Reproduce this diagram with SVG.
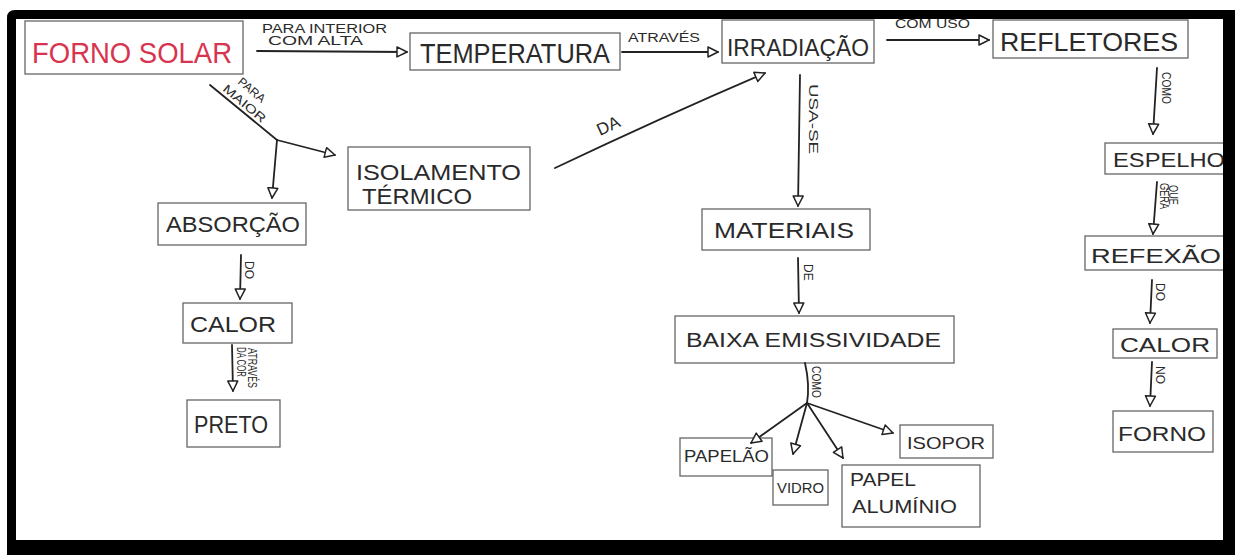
<svg xmlns="http://www.w3.org/2000/svg" width="1239" height="557" viewBox="0 0 1239 557">
  <style>
    .box { fill: #ffffff; stroke: #666; stroke-width: 1.3; }
    .t { font-family: "Liberation Sans", Arial, sans-serif; fill: #2a2a2a; }
    .lbl { font-family: "Liberation Sans", Arial, sans-serif; fill: #2a2a2a; font-size: 12px; }
    .edge { fill: none; stroke: #222; stroke-width: 1.8; stroke-linecap: round; }
    .edge-end { fill: none; stroke: #222; stroke-width: 1.8; stroke-linecap: round; marker-end: url(#tri); }
  </style>
  <defs>
    <marker id="tri" markerUnits="userSpaceOnUse" markerWidth="13" markerHeight="13" viewBox="0 0 13 13" refX="11" refY="6.5" orient="auto">
      <path d="M1,1.5 L11,6.5 L1,11.5 Z" fill="#fff" stroke="#222" stroke-width="1.5" stroke-linejoin="round"/>
    </marker>
  </defs>

  <rect x="0" y="0" width="1239" height="557" fill="#ffffff"/>

  <!-- concept boxes -->
  <g id="forno-solar">
    <rect class="box" x="25" y="21" width="218" height="53"/>
    <text x="32" y="63" font-size="30" textLength="200" lengthAdjust="spacingAndGlyphs" style="font-family:'Liberation Sans',Arial,sans-serif;fill:#d8344f">FORNO SOLAR</text>
  </g>
  <g id="temperatura">
    <rect class="box" x="410" y="33" width="210" height="37"/>
    <text class="t" x="420" y="63" font-size="27" textLength="190" lengthAdjust="spacingAndGlyphs">TEMPERATURA</text>
  </g>
  <g id="irradiacao">
    <rect class="box" x="722" y="20" width="152" height="43"/>
    <text class="t" x="727" y="56" font-size="24" textLength="142" lengthAdjust="spacingAndGlyphs">IRRADIAÇÃO</text>
  </g>
  <g id="refletores">
    <rect class="box" x="993" y="20" width="195" height="38"/>
    <text class="t" x="1000" y="51" font-size="26" textLength="178" lengthAdjust="spacingAndGlyphs">REFLETORES</text>
  </g>
  <g id="isolamento-termico">
    <rect class="box" x="348" y="147" width="182" height="63"/>
    <text class="t" x="356" y="180" font-size="22" textLength="165" lengthAdjust="spacingAndGlyphs">ISOLAMENTO</text>
    <text class="t" x="362" y="204" font-size="22" textLength="110" lengthAdjust="spacingAndGlyphs">TÉRMICO</text>
  </g>
  <g id="absorcao">
    <rect class="box" x="158" y="203" width="148" height="42"/>
    <text class="t" x="166" y="232" font-size="22" textLength="134" lengthAdjust="spacingAndGlyphs">ABSORÇÃO</text>
  </g>
  <g id="calor-absorcao">
    <rect class="box" x="183" y="303" width="109" height="40"/>
    <text class="t" x="190" y="332" font-size="22" textLength="86" lengthAdjust="spacingAndGlyphs">CALOR</text>
  </g>
  <g id="preto">
    <rect class="box" x="187" y="400" width="93" height="47"/>
    <text class="t" x="194" y="433" font-size="24" textLength="74" lengthAdjust="spacingAndGlyphs">PRETO</text>
  </g>
  <g id="materiais">
    <rect class="box" x="702" y="209" width="168" height="41"/>
    <text class="t" x="714" y="238" font-size="22" textLength="140" lengthAdjust="spacingAndGlyphs">MATERIAIS</text>
  </g>
  <g id="baixa-emissividade">
    <rect class="box" x="675" y="316" width="279" height="47"/>
    <text class="t" x="686" y="347" font-size="20" textLength="255" lengthAdjust="spacingAndGlyphs">BAIXA EMISSIVIDADE</text>
  </g>
  <g id="papelao">
    <rect class="box" x="680" y="438" width="92" height="38"/>
    <text class="t" x="684" y="462" font-size="16" textLength="85" lengthAdjust="spacingAndGlyphs">PAPELÃO</text>
  </g>
  <g id="vidro">
    <rect class="box" x="773" y="470" width="55" height="35"/>
    <text class="t" x="777" y="493" font-size="15" textLength="47" lengthAdjust="spacingAndGlyphs">VIDRO</text>
  </g>
  <g id="papel-aluminio">
    <rect class="box" x="842" y="465" width="138" height="62"/>
    <text class="t" x="850" y="486" font-size="18" textLength="66" lengthAdjust="spacingAndGlyphs">PAPEL</text>
    <text class="t" x="852" y="513" font-size="18" textLength="105" lengthAdjust="spacingAndGlyphs">ALUMÍNIO</text>
  </g>
  <g id="isopor">
    <rect class="box" x="900" y="425" width="93" height="33"/>
    <text class="t" x="907" y="449" font-size="17" textLength="78" lengthAdjust="spacingAndGlyphs">ISOPOR</text>
  </g>
  <g id="espelho">
    <rect class="box" x="1105" y="143" width="125" height="31"/>
    <text class="t" x="1113" y="167" font-size="20" textLength="112" lengthAdjust="spacingAndGlyphs">ESPELHO</text>
  </g>
  <g id="reflexao">
    <rect class="box" x="1085" y="236" width="145" height="34"/>
    <text class="t" x="1091" y="263" font-size="20" textLength="130" lengthAdjust="spacingAndGlyphs">REFEXÃO</text>
  </g>
  <g id="calor-forno">
    <rect class="box" x="1113" y="329" width="104" height="29"/>
    <text class="t" x="1120" y="352" font-size="20" textLength="90" lengthAdjust="spacingAndGlyphs">CALOR</text>
  </g>
  <g id="forno">
    <rect class="box" x="1113" y="411" width="100" height="41"/>
    <text class="t" x="1118" y="441" font-size="21" textLength="88" lengthAdjust="spacingAndGlyphs">FORNO</text>
  </g>

  <!-- connectors with their linking words -->
  <g id="connectors">
    <line class="edge-end" x1="257" y1="51" x2="407" y2="52"/>
    <text class="lbl" x="262" y="33" textLength="125" lengthAdjust="spacingAndGlyphs">PARA INTERIOR</text>
    <text class="lbl" x="268" y="45" textLength="95" lengthAdjust="spacingAndGlyphs">COM ALTA</text>

    <line class="edge-end" x1="622" y1="52" x2="718" y2="52"/>
    <text class="lbl" x="628" y="42" textLength="72" lengthAdjust="spacingAndGlyphs">ATRAVÉS</text>

    <line class="edge-end" x1="887" y1="40" x2="989" y2="40"/>
    <text class="lbl" x="895" y="28" textLength="75" lengthAdjust="spacingAndGlyphs">COM USO</text>

    <polyline class="edge" points="210,85 277,140"/>
    <text class="lbl" transform="translate(237,83) rotate(40)" font-size="11">PARA</text>
    <text class="lbl" transform="translate(222,90) rotate(40)" textLength="52" lengthAdjust="spacingAndGlyphs">MAIOR</text>
    <line class="edge-end" x1="277" y1="140" x2="335" y2="155"/>
    <line class="edge-end" x1="277" y1="140" x2="272" y2="198"/>

    <path class="edge-end" d="M555,168 Q660,118 765,73"/>
    <text class="t" transform="translate(600,136) rotate(-25)" font-size="17">DA</text>

    <line class="edge-end" x1="800" y1="75" x2="798" y2="206"/>
    <text class="lbl" transform="translate(809,84) rotate(90)" textLength="70" lengthAdjust="spacingAndGlyphs">USA-SE</text>

    <line class="edge-end" x1="241" y1="255" x2="240" y2="299"/>
    <text class="lbl" transform="translate(245,261) rotate(90)">DO</text>

    <line class="edge-end" x1="232" y1="345" x2="233" y2="391"/>
    <text class="lbl" transform="translate(237,347) rotate(90)" font-size="9" textLength="30" lengthAdjust="spacingAndGlyphs">DA COR</text>
    <text class="lbl" transform="translate(248,348) rotate(90)" font-size="9" textLength="40" lengthAdjust="spacingAndGlyphs">ATRAVÉS</text>

    <line class="edge-end" x1="798" y1="258" x2="799" y2="313"/>
    <text class="lbl" transform="translate(804,264) rotate(90)">DE</text>

    <path class="edge" d="M805,363 Q810,385 807,403"/>
    <text class="lbl" transform="translate(812,366) rotate(90)" font-size="10" textLength="32" lengthAdjust="spacingAndGlyphs">COMO</text>
    <line class="edge-end" x1="807" y1="403" x2="751" y2="443"/>
    <line class="edge-end" x1="807" y1="403" x2="793" y2="454"/>
    <line class="edge-end" x1="807" y1="403" x2="843" y2="458"/>
    <line class="edge-end" x1="807" y1="403" x2="893" y2="433"/>

    <line class="edge-end" x1="1157" y1="68" x2="1153" y2="134"/>
    <text class="lbl" transform="translate(1162,72) rotate(90)" font-size="10" textLength="32" lengthAdjust="spacingAndGlyphs">COMO</text>

    <line class="edge-end" x1="1157" y1="182" x2="1153" y2="234"/>
    <text class="lbl" transform="translate(1160,183) rotate(90)" font-size="9" textLength="26" lengthAdjust="spacingAndGlyphs">GERA</text>
    <text class="lbl" transform="translate(1169,185) rotate(90)" font-size="9" textLength="20" lengthAdjust="spacingAndGlyphs">QUE</text>

    <line class="edge-end" x1="1152" y1="280" x2="1150" y2="323"/>
    <text class="lbl" transform="translate(1156,283) rotate(90)" font-size="11">DO</text>

    <line class="edge-end" x1="1152" y1="362" x2="1150" y2="406"/>
    <text class="lbl" transform="translate(1156,366) rotate(90)" font-size="11">NO</text>
  </g>

  <!-- black picture frame -->
  <path fill="#000" fill-rule="evenodd" d="M15,10 H1235 V555 H7 V18 Q7,10 15,10 Z M16,19 V540 H1223 V19 Z"/>
</svg>
